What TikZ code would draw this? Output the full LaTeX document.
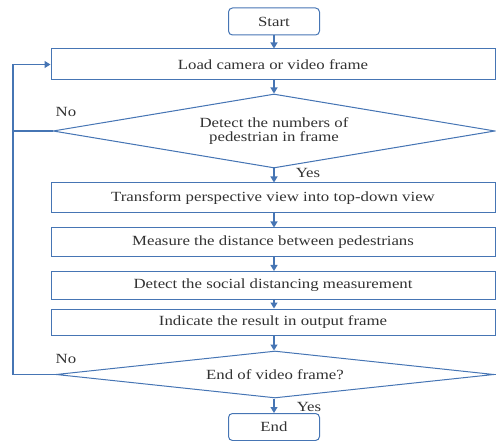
\documentclass[tikz,border=0pt]{standalone}
\usepackage{fontspec}
\setmainfont{Liberation Serif}[FakeStretch=1.2]
\usetikzlibrary{arrows.meta,shapes.geometric}
\definecolor{flowblue}{RGB}{70,117,180}
\definecolor{flowtext}{RGB}{50,50,50}

\begin{document}
\begin{tikzpicture}[x=1pt,y=-1pt,
  every node/.style={font=\fontsize{14}{14.5}\selectfont, text=flowtext},
  procbox/.style={draw=flowblue, line width=1pt, minimum width=444pt, inner sep=0pt},
  termbox/.style={draw=flowblue, line width=1pt, rounded corners=4pt, minimum width=91pt, minimum height=27pt},
  decbox/.style={draw=flowblue, line width=1pt, diamond, aspect=6, inner sep=0pt, align=center},
  flowline/.style={draw=flowblue, line width=1.5pt},
  flowarrow/.style={draw=flowblue, line width=1.2pt, -{Triangle[width=7pt,length=6pt]}}]
\useasboundingbox (0,0) rectangle (496,441);
\node[termbox] (start) at (274,21.5) {Start};
\node[procbox, minimum height=31pt] (load) at (273,64.5) {Load camera or video frame};
\node[decbox, minimum width=442pt, minimum height=74pt] (detnum) at (274,131) {Detect the numbers of\\pedestrian in frame};
\node[procbox, minimum height=30pt] (topdown) at (273,198) {Transform perspective view into top-down view};
\node[procbox, minimum height=29pt] (measure) at (273,242.5) {Measure the distance between pedestrians};
\node[procbox, minimum height=28pt] (social) at (273,285.5) {Detect the social distancing measurement};
\node[procbox, minimum height=26pt] (result) at (273,322) {Indicate the result in output frame};
\node[decbox, minimum width=438pt, minimum height=47pt] (endvid) at (275,374.5) {End of video frame?};
\node[termbox] (stop) at (274,427) {End};
\node (no1) at (66,112) {No};
\node (no2) at (66,359) {No};
\node (yes1) at (308,173) {Yes};
\node (yes2) at (309,407) {Yes};
\coordinate (looptop) at (13,64.5);
\draw[flowarrow] (start.south) -- (start.south |- load.north);
\draw[flowarrow] (load.south -| start) -- (detnum.north);
\draw[flowarrow] (detnum.south) -- (detnum.south |- topdown.north);
\draw[flowarrow] (topdown.south -| start) -- (start |- measure.north);
\draw[flowarrow] (measure.south -| start) -- (start |- social.north);
\draw[flowarrow] (social.south -| start) -- (start |- result.north);
\draw[flowarrow] (result.south -| start) -- (start |- endvid.north);
\draw[flowarrow] (start |- endvid.south) -- (stop.north);
\draw[flowline] (detnum.west) -- (detnum.west -| looptop);
\draw[flowline] (endvid.west) -| (looptop);
\draw[flowarrow] (looptop) -- (load.west);
\end{tikzpicture}
\end{document}
